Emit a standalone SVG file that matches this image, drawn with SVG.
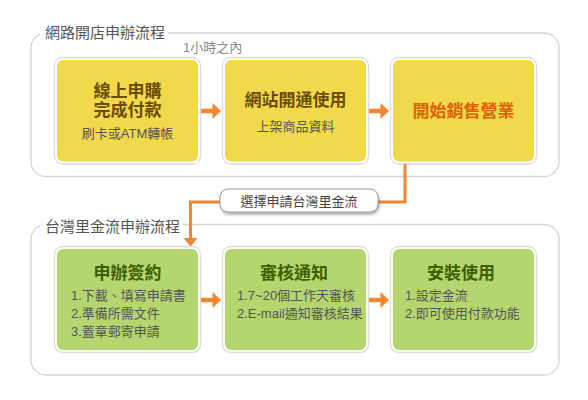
<svg xmlns="http://www.w3.org/2000/svg" width="588" height="400" viewBox="0 0 588 400">
<defs>
<style>
text{font-family:"Liberation Sans","Noto Sans CJK TC",sans-serif}
.container{fill:#fff;stroke:#d4d4d4;stroke-width:1.3}
.ctitle{font-size:15px;fill:#555}
.frame{fill:#fff;stroke:#dcdcdc;stroke-width:1.3}
.yel{fill:#f0da4c}
.grn{fill:#b5d66f}
.ttl{font-size:17px;font-weight:bold;text-anchor:middle}
.ty{fill:#6b4c00}
.tg{fill:#3d5f00}
.sub{font-size:13px;fill:#555}
.conn{fill:none;stroke:#f4862f;stroke-width:3}
.arr{fill:#f4862f}
</style>
<filter id="sh" x="-10%" y="-30%" width="120%" height="170%">
<feDropShadow dx="1" dy="2" stdDeviation="1.5" flood-color="#000" flood-opacity="0.35"/>
</filter>
</defs>
<rect width="588" height="400" fill="#fff"/>

<g id="container-top">
<rect class="container" x="31" y="33" width="528" height="143.5" rx="15"/>
<rect x="40" y="24" width="128" height="18" fill="#fff"/>
<text class="ctitle" x="45" y="38.2">網路開店申辦流程</text>
<text x="183" y="51.6" font-size="13" fill="#888">1小時之內</text>
</g>

<g id="container-bottom">
<rect class="container" x="31" y="224.5" width="528" height="150.5" rx="15"/>
<rect x="40" y="216" width="143" height="18" fill="#fff"/>
<text class="ctitle" x="45" y="231.7">台灣里金流申辦流程</text>
</g>

<g id="node-buy">
<rect class="frame" x="54.5" y="57.5" width="146" height="106.5" rx="8"/>
<rect class="yel" x="57" y="60" width="141" height="101.5" rx="6"/>
<text class="ttl ty" x="127.5" y="96.5">線上申購</text>
<text class="ttl ty" x="127.5" y="115.5">完成付款</text>
<text class="sub" x="127.5" y="138.3" text-anchor="middle">刷卡或ATM轉帳</text>
</g>

<g id="node-site">
<rect class="frame" x="222.5" y="57.5" width="146" height="106.5" rx="8"/>
<rect class="yel" x="225" y="60" width="141" height="101.5" rx="6"/>
<text class="ttl ty" x="295.5" y="106">網站開通使用</text>
<text class="sub" x="295.5" y="130.5" text-anchor="middle">上架商品資料</text>
</g>

<g id="node-sell">
<rect class="frame" x="390.5" y="57.5" width="146" height="106.5" rx="8"/>
<rect class="yel" x="393" y="60" width="141" height="101.5" rx="6"/>
<text class="ttl" x="463.5" y="117.2" fill="#e0600a">開始銷售營業</text>
</g>

<g id="node-sign">
<rect class="frame" x="54.5" y="246.5" width="146" height="106" rx="8"/>
<rect class="grn" x="57" y="249" width="141" height="101" rx="6"/>
<text class="ttl tg" x="127.5" y="278.5">申辦簽約</text>
<text class="sub" x="71" y="299.5">1.下載、填寫申請書</text>
<text class="sub" x="71" y="317.5">2.準備所需文件</text>
<text class="sub" x="71" y="335.8">3.蓋章郵寄申請</text>
</g>

<g id="node-review">
<rect class="frame" x="222.5" y="246.5" width="146" height="106" rx="8"/>
<rect class="grn" x="225" y="249" width="141" height="101" rx="6"/>
<text class="ttl tg" x="294" y="278.5">審核通知</text>
<text class="sub" x="237" y="299.5">1.7~20個工作天審核</text>
<text class="sub" x="237" y="317.5">2.E-mail通知審核結果</text>
</g>

<g id="node-install">
<rect class="frame" x="390.5" y="246.5" width="146" height="106" rx="8"/>
<rect class="grn" x="393" y="249" width="141" height="101" rx="6"/>
<text class="ttl tg" x="461" y="278.5">安裝使用</text>
<text class="sub" x="405" y="299.5">1.設定金流</text>
<text class="sub" x="405" y="317.5">2.即可使用付款功能</text>
</g>

<g id="connectors">
<polygon class="arr" points="201,108.8 212.5,108.8 212.5,103 221,111 212.5,119 212.5,113.2 201,113.2"/>
<polygon class="arr" points="369,108.8 380.5,108.8 380.5,103 389,111 380.5,119 380.5,113.2 369,113.2"/>
<polygon class="arr" points="201,297.8 212.5,297.8 212.5,292 221,300 212.5,308 212.5,302.2 201,302.2"/>
<polygon class="arr" points="369,297.8 380.5,297.8 380.5,292 389,300 380.5,308 380.5,302.2 369,302.2"/>
<polyline class="conn" points="405,164 405,202 378,202"/>
<polyline class="conn" points="220,202 190.5,202 190.5,239"/>
<polygon class="arr" points="183.5,238 197.5,238 190.5,246.5"/>
</g>

<g id="label-choose">
<rect x="220" y="189" width="158" height="23" rx="8" fill="#fff" stroke="#9a9a9a" stroke-width="1" filter="url(#sh)"/>
<text x="299" y="206" font-size="13" fill="#444" text-anchor="middle">選擇申請台灣里金流</text>
</g>
</svg>
